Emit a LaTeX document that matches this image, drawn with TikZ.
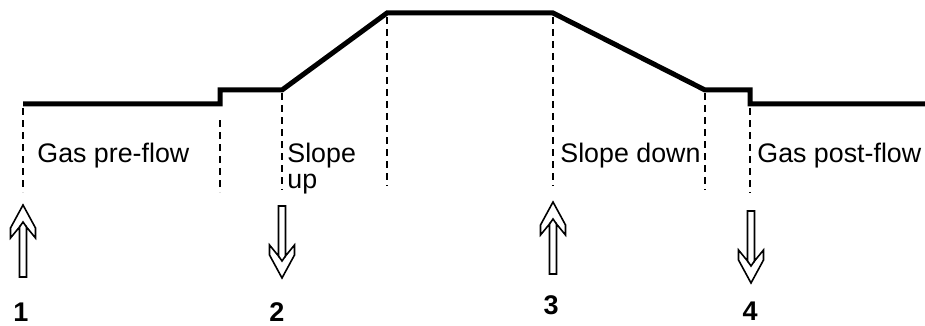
\documentclass[tikz,border=0pt]{standalone}
\usepackage{fontspec}
\setmainfont{Liberation Sans}
\usetikzlibrary{positioning}

\begin{document}
\begin{tikzpicture}[x=0.5pt, y=-0.5pt,
    weld/.style = {line width=2.5pt, line join=miter},
    guide/.style = {line width=1pt, dash pattern=on 3.5pt off 2.5pt},
    phase/.style = {anchor=north west, inner sep=0pt, align=left,
                    font=\fontsize{13.4}{13}\selectfont},
    num/.style = {anchor=base, inner sep=0pt,
                  font=\fontsize{13.5}{16}\selectfont\bfseries},
    hollow arrow/.pic = {
      \draw[line width=0.8pt, line join=miter]
        (0,0) -- (-12.5,23) -- (-12.5,33) -- (-3.5,22) -- (-3.5,72)
        -- (3.5,72) -- (3.5,22) -- (12.5,33) -- (12.5,23) -- cycle;
      \draw[line width=0.8pt] (-3.5,22) -- (0,17) -- (3.5,22);}]
  \useasboundingbox (0,0) rectangle (925,326);

  % corners of the current profile
  \coordinate (start) at (23,104);
  \coordinate (preA) at (220,104);
  \coordinate (preB) at (220,90);
  \coordinate (upA) at (282,90);
  \coordinate (upB) at (387,13);
  \coordinate (downA) at (553,13);
  \coordinate (downB) at (705,90);
  \coordinate (postA) at (750,90);
  \coordinate (postB) at (750,104);
  \coordinate (stop) at (925,104);

  \draw[weld] (start) -- (preA) -- (preB) -- (upA) -- (upB)
    -- (downA) -- (downB) -- (postA) -- (postB) -- (stop);

  % dashed markers
  \draw[guide] (start) ++(0,4) -- ++(0,84);
  \draw[guide] (preA) ++(0,16) -- ++(0,72);
  \draw[guide] (upA) ++(0,3) -- ++(0,97);
  \draw[guide] (upB) ++(0,4) -- ++(0,169);
  \draw[guide] (downA) ++(0,4) -- ++(0,169);
  \draw[guide] (downB) ++(0,3) -- ++(0,97);
  \draw[guide] (postB) ++(0,4) -- ++(0,85);

  \node (preflow) [phase] at (37,143) {Gas pre-flow};
  \node (slopeup) [phase] at (287,143) {Slope\\up};
  \node (slopedown) [phase] at (560,143) {Slope down};
  \node (postflow) [phase] at (757,143) {Gas post-flow};

  % trigger arrows
  \pic at (23,205) {hollow arrow};
  \pic[rotate=180] at (282,278) {hollow arrow};
  \pic at (553,202) {hollow arrow};
  \pic[rotate=180] at (751,283) {hollow arrow};

  \node (one) [num] at (21,321) {1};
  \node (two) [num] at (277,321) {2};
  \node (three) [num] at (551,314) {3};
  \node (four) [num] at (750,320) {4};
\end{tikzpicture}
\end{document}
